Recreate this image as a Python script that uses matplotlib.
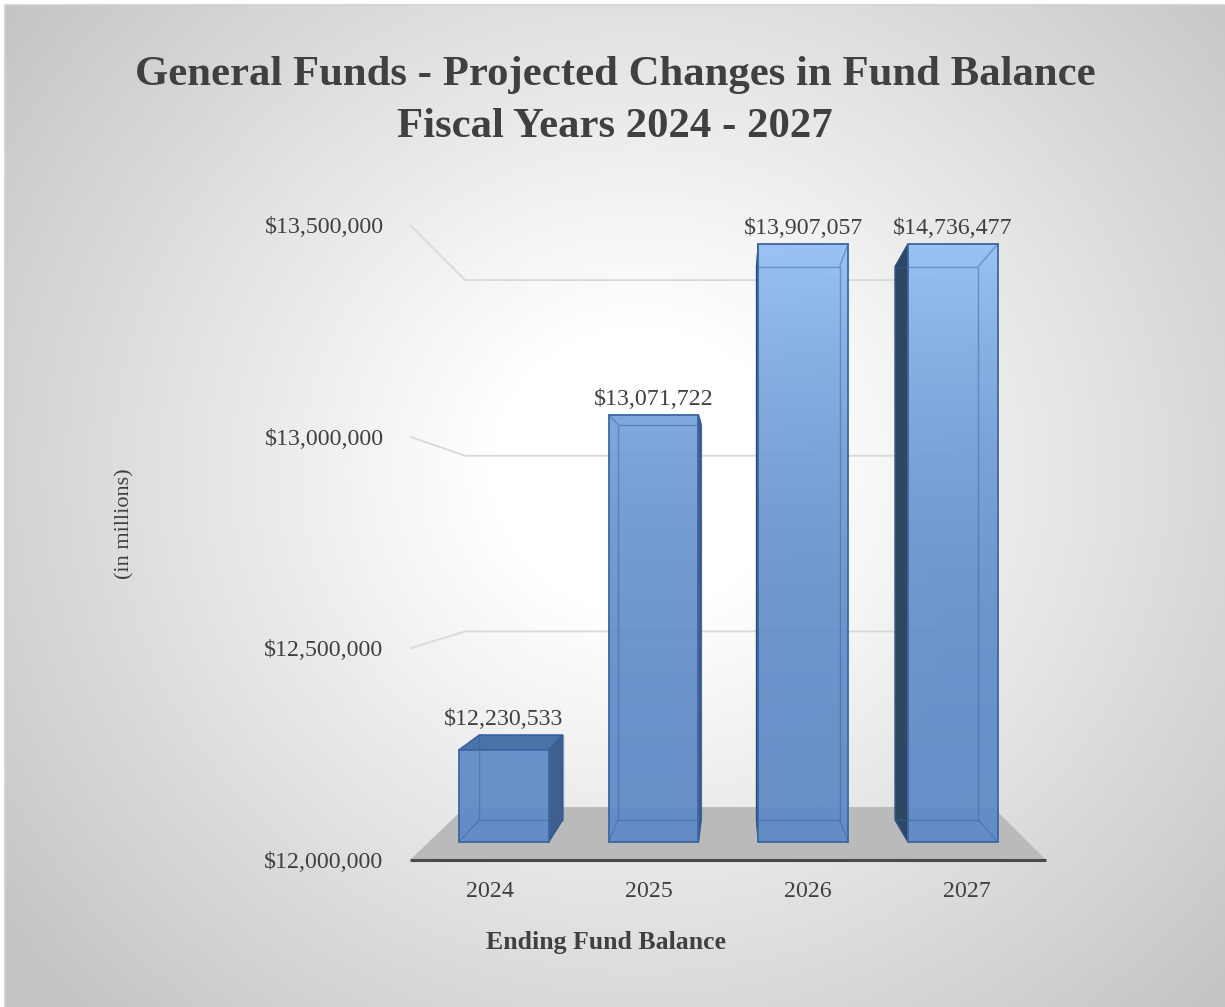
import numpy as np
import matplotlib
matplotlib.use("Agg")
import matplotlib.pyplot as plt
from matplotlib.patches import Polygon
from matplotlib.transforms import IdentityTransform
from matplotlib.colors import to_rgb

# values
years = ["2024", "2025", "2026", "2027"]
balances = [12230533, 13071722, 13907057, 14736477]
y_ticks = [12000000, 12500000, 13000000, 13500000]

W, H = 1225, 1007
plt.rcParams['font.family'] = ['Liberation Serif', 'DejaVu Serif']
TXT = '#404040'

fig = plt.figure(figsize=(W / 100, H / 100), dpi=100)

# radial grey background
bg = fig.add_axes([0, 0, 1, 1])
bg.set_xlim(0, W)
bg.set_ylim(H, 0)
bg.axis('off')
yy, xx = np.mgrid[0:H, 0:W]
r = np.hypot(xx - 640, (yy - 470) * 1.05)
t = np.clip((r - 150) / 650, 0, 1)
shade = 1 - 0.23 * t
img = np.dstack([shade] * 3)
img[:5, :] = 1
img[:, :5] = 1
bg.imshow(img, extent=(0, W, H, 0), aspect='auto', interpolation='bilinear')
bg.plot([5, 5, W], [H, 5, 5], color='#cfcfcf', lw=1.2)

# front plane of the 3d chart
L, R, B, T = 410, 1046, 860, 225
ax = fig.add_axes([L / W, 1 - B / H, (R - L) / W, (B - T) / H])
ax.set_xlim(-0.5, 3.5)
ax.set_ylim(y_ticks[0], y_ticks[-1])
ax.patch.set_visible(False)
for s in ax.spines.values():
    s.set_visible(False)
ax.set_yticks(y_ticks, [f"${v:,.0f}" for v in y_ticks])
ax.set_xticks(range(len(years)), years)
ax.tick_params(length=0, labelsize=17.2, colors=TXT)
ax.tick_params(axis='y', pad=19)
ax.tick_params(axis='x', pad=15)

# simple perspective: shrink towards vanishing point with depth z (0 front, 1 back)
VP = (0.51, 0.49)
K = 0.205


def project(xs, ys, zs):
    pts = ax.transData.transform(np.column_stack([xs, ys]))
    vx, vy = ax.transAxes.transform(VP)
    s = 1.0 / (1.0 + K * np.asarray(zs, float))
    return np.column_stack([vx + (pts[:, 0] - vx) * s, vy + (pts[:, 1] - vy) * s])


def face(pts, **kw):
    p = Polygon(pts, closed=True, transform=IdentityTransform(), clip_on=False, **kw)
    ax.add_patch(p)
    return p


def seg(pts, **kw):
    ax.plot(pts[:, 0], pts[:, 1], transform=IdentityTransform(), clip_on=False,
            solid_capstyle='butt', **kw)


base, ymax = ax.get_ylim()
x_lo, x_hi = ax.get_xlim()

# floor
floor = project([x_lo, x_hi, x_hi, x_lo], [base] * 4, [0, 0, 1, 1])
face(floor, facecolor='#bababa', edgecolor='none', zorder=1)
seg(floor[:2], color='#4a4a4a', lw=2.2, zorder=2)

# gridlines on side wall and back wall
for v in y_ticks[1:]:
    g = project([x_lo, x_lo, x_hi], [v] * 3, [0, 1, 1])
    seg(g, color='#d9d9d9', lw=1.3, zorder=1)

# bars
BAR_W = 0.6
Z0, Z1 = 0.30, 0.72
c_bot = np.array(to_rgb('#5e8ac6'))
c_top = np.array(to_rgb('#98c3f6'))
vx, vy = ax.transAxes.transform(VP)
grad = np.linspace(0, 1, 256)[:, None]

for i, v in enumerate(balances):
    top = min(v, ymax)
    x0, x1 = i - BAR_W / 2, i + BAR_W / 2
    xs = [x0, x1, x1, x0]
    ys = [base, base, top, top]
    front = project(xs, ys, [Z0] * 4)
    back = project(xs, ys, [Z1] * 4)

    # visible side
    if front[0, 0] > vx:
        side = np.array([front[0], back[0], back[3], front[3]])
        face(side, facecolor='#2e4864', edgecolor='#2b4a70', lw=1, zorder=3)
    if front[1, 0] < vx:
        side = np.array([front[1], back[1], back[2], front[2]])
        face(side, facecolor='#3f5f8d', edgecolor='#35598a', lw=1, zorder=3)
    if front[2, 1] < vy:
        lid = np.array([front[3], front[2], back[2], back[3]])
        face(lid, facecolor='#4c73a8', edgecolor='#3a64a0', lw=1, zorder=3)

    # front face with vertical gradient
    tt = grad ** 2.4
    cols = c_bot + (c_top - c_bot) * tt
    im = ax.imshow(np.repeat(cols[:, None, :], 2, axis=1).reshape(256, 2, 3),
                   extent=(x_lo, x_hi, base, ymax), origin='lower',
                   aspect='auto', alpha=0.93, zorder=4, interpolation='bilinear')
    clip = face(front, facecolor='none', edgecolor='none', zorder=4)
    im.set_clip_path(clip)

    # hidden edges showing through
    seg(np.vstack([back, back[:1]]), color='#2f5fa0', alpha=0.45, lw=1, zorder=5)
    for k in range(4):
        seg(np.array([front[k], back[k]]), color='#2f5fa0', alpha=0.45, lw=1, zorder=5)
    face(front, facecolor='none', edgecolor='#3e66a2', lw=1.3, zorder=6)

    # value label
    lx = project([i], [top], [Z0])[0, 0]
    ly = max(front[2, 1], back[2, 1])
    ax.text(lx, ly + 5, f"${v:,.0f}", transform=IdentityTransform(),
            ha='center', va='bottom', fontsize=17.2, color=TXT, zorder=7)

fig.text(615 / W, 1 - 101 / H,
         "General Funds - Projected Changes in Fund Balance\nFiscal Years 2024 - 2027",
         ha='center', va='center', fontsize=30.8, fontweight='bold', color=TXT,
         linespacing=1.45)
fig.text(606 / W, 1 - 942 / H, "Ending Fund Balance", ha='center', va='center',
         fontsize=18.5, fontweight='bold', color=TXT)
fig.text(125 / W, 1 - 524 / H, "(in millions)", ha='center', va='center',
         rotation=90, fontsize=16, color=TXT)

fig.savefig('out.png', dpi=100)
